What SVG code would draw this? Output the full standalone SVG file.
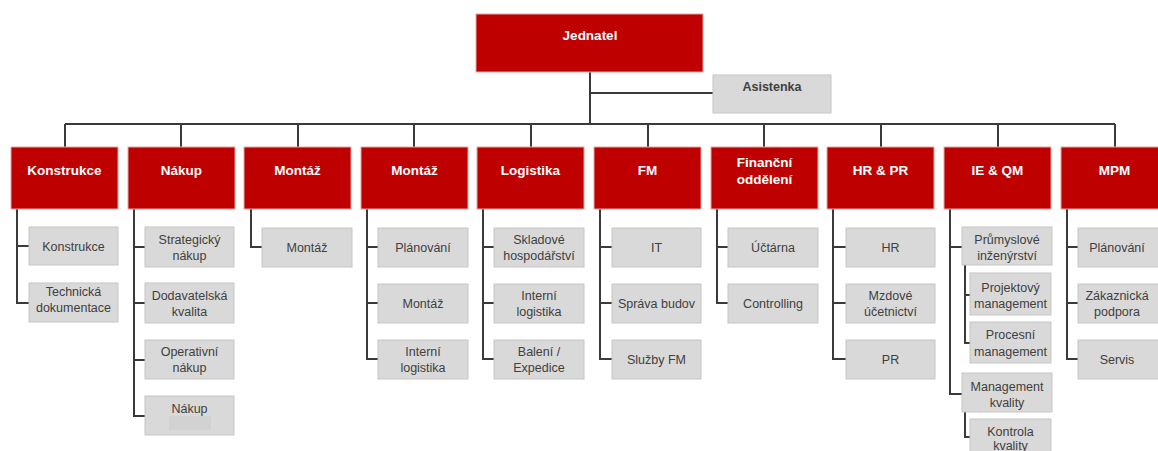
<svg xmlns="http://www.w3.org/2000/svg" width="1158" height="451" viewBox="0 0 1158 451">
<style>
.r{fill:#bf0000;stroke:#e8a5a5;stroke-width:1}
.g{fill:#d9d9d9;stroke:#c6c6c6;stroke-width:1}
.ln{fill:none;stroke:#3a3a3a;stroke-width:2}
.tw{font-family:"Liberation Sans",Arial,sans-serif;font-weight:bold;font-size:13.5px;fill:#ffffff;text-anchor:middle}
.tb{font-family:"Liberation Sans",Arial,sans-serif;font-weight:bold;font-size:12.5px;fill:#404040;text-anchor:middle}
.t{font-family:"Liberation Sans",Arial,sans-serif;font-size:12.5px;fill:#404040;text-anchor:middle}
</style>
<rect width="1158" height="451" fill="#ffffff"/>
<g id="connectors" class="ln">
<path d="M590 72V124M590 93H713M65 124H1115"/>
<path d="M65 124V147M181 124V147M298 124V147M414 124V147M531 124V147M648 124V147M764 124V147M881 124V147M998 124V147M1115 124V147"/>
<path d="M17 209V303H29M17 246H29"/>
<path d="M134 209V416H145M134 247H145M134 303H145M134 360H145"/>
<path d="M251 209V247H262"/>
<path d="M367 209V359H378M367 247H378M367 303H378"/>
<path d="M483 209V359H494M483 247H494M483 303H494"/>
<path d="M600 209V359H612M600 247H612M600 303H612"/>
<path d="M717 209V303H728M717 247H728"/>
<path d="M833 209V359H846M833 247H846M833 303H846"/>
<path d="M950 209V394H962M950 247H962"/>
<path d="M965 265V343H970M965 295H970"/>
<path d="M965 412V437H970"/>
<path d="M1067 209V359H1078M1067 247H1078M1067 303H1078"/>
</g>
<g id="jednatel"><rect class="r" x="476" y="14" width="227" height="58"/><text class="tw" x="590" y="40">Jednatel</text></g>
<g id="asistenka"><rect class="g" x="713" y="75" width="118" height="38"/><text class="tb" x="772" y="91">Asistenka</text></g>

<g id="konstrukce"><rect class="r" x="11" y="147" width="107" height="62"/><text class="tw" x="64.5" y="175">Konstrukce</text></g>
<g id="nakup"><rect class="r" x="128" y="147" width="107" height="62"/><text class="tw" x="181.5" y="175">Nákup</text></g>
<g id="montaz1"><rect class="r" x="244" y="147" width="107" height="62"/><text class="tw" x="297.5" y="175">Montáž</text></g>
<g id="montaz2"><rect class="r" x="361" y="147" width="107" height="62"/><text class="tw" x="414.5" y="175">Montáž</text></g>
<g id="logistika"><rect class="r" x="477" y="147" width="107" height="62"/><text class="tw" x="530.5" y="175">Logistika</text></g>
<g id="fm"><rect class="r" x="594" y="147" width="107" height="62"/><text class="tw" x="647.5" y="175">FM</text></g>
<g id="financni"><rect class="r" x="711" y="147" width="107" height="62"/><text class="tw" x="764.5" y="167">Finanční</text><text class="tw" x="764.5" y="184">oddělení</text></g>
<g id="hrpr"><rect class="r" x="827" y="147" width="107" height="62"/><text class="tw" x="880.5" y="175">HR &amp; PR</text></g>
<g id="ieqm"><rect class="r" x="944" y="147" width="107" height="62"/><text class="tw" x="997.5" y="175">IE &amp; QM</text></g>
<g id="mpm"><rect class="r" x="1061" y="147" width="107" height="62"/><text class="tw" x="1114.5" y="175">MPM</text></g>

<g id="k1"><rect class="g" x="29" y="227" width="89" height="38"/><text class="t" x="73.5" y="250.5">Konstrukce</text></g>
<g id="k2"><rect class="g" x="29" y="283" width="89" height="39"/><text class="t" x="73.5" y="296">Technická</text><text class="t" x="73.5" y="312">dokumentace</text></g>

<g id="n1"><rect class="g" x="145" y="227" width="89" height="40"/><text class="t" x="189.5" y="243.5">Strategický</text><text class="t" x="189.5" y="259.5">nákup</text></g>
<g id="n2"><rect class="g" x="145" y="283" width="89" height="40"/><text class="t" x="189.5" y="299.5">Dodavatelská</text><text class="t" x="189.5" y="315.5">kvalita</text></g>
<g id="n3"><rect class="g" x="145" y="340" width="89" height="39"/><text class="t" x="189.5" y="356">Operativní</text><text class="t" x="189.5" y="372">nákup</text></g>
<g id="n4"><rect class="g" x="145" y="396" width="89" height="39"/><rect x="169" y="416" width="42" height="14" fill="#d2d2d2"/><text class="t" x="189.5" y="412.5">Nákup</text></g>

<g id="m1"><rect class="g" x="262" y="228" width="90" height="39"/><text class="t" x="307" y="252">Montáž</text></g>

<g id="m2a"><rect class="g" x="378" y="228" width="90" height="39"/><text class="t" x="423" y="252">Plánování</text></g>
<g id="m2b"><rect class="g" x="378" y="284" width="90" height="39"/><text class="t" x="423" y="308">Montáž</text></g>
<g id="m2c"><rect class="g" x="378" y="340" width="90" height="39"/><text class="t" x="423" y="356">Interní</text><text class="t" x="423" y="372">logistika</text></g>

<g id="l1"><rect class="g" x="494" y="228" width="90" height="39"/><text class="t" x="539" y="244">Skladové</text><text class="t" x="539" y="260">hospodářství</text></g>
<g id="l2"><rect class="g" x="494" y="284" width="90" height="39"/><text class="t" x="539" y="300">Interní</text><text class="t" x="539" y="316">logistika</text></g>
<g id="l3"><rect class="g" x="494" y="340" width="90" height="39"/><text class="t" x="539" y="356">Balení /</text><text class="t" x="539" y="372">Expedice</text></g>

<g id="f1"><rect class="g" x="612" y="228" width="89" height="39"/><text class="t" x="656.5" y="252">IT</text></g>
<g id="f2"><rect class="g" x="612" y="284" width="89" height="39"/><text class="t" x="656.5" y="308">Správa budov</text></g>
<g id="f3"><rect class="g" x="612" y="340" width="89" height="39"/><text class="t" x="656.5" y="364">Služby FM</text></g>

<g id="fi1"><rect class="g" x="728" y="228" width="90" height="39"/><text class="t" x="773" y="252">Účtárna</text></g>
<g id="fi2"><rect class="g" x="728" y="284" width="90" height="39"/><text class="t" x="773" y="308">Controlling</text></g>

<g id="h1"><rect class="g" x="846" y="228" width="89" height="39"/><text class="t" x="890.5" y="252">HR</text></g>
<g id="h2"><rect class="g" x="846" y="284" width="89" height="39"/><text class="t" x="890.5" y="300">Mzdové</text><text class="t" x="890.5" y="316">účetnictví</text></g>
<g id="h3"><rect class="g" x="846" y="340" width="89" height="39"/><text class="t" x="890.5" y="364">PR</text></g>

<g id="i1"><rect class="g" x="962" y="227" width="90" height="38"/><text class="t" x="1007" y="243.5">Průmyslové</text><text class="t" x="1007" y="259.5">inženýrství</text></g>
<g id="i2"><rect class="g" x="970" y="273" width="81" height="42"/><text class="t" x="1010.5" y="291.5">Projektový</text><text class="t" x="1010.5" y="307.5">management</text></g>
<g id="i3"><rect class="g" x="970" y="322" width="81" height="41"/><text class="t" x="1010.5" y="338.5">Procesní</text><text class="t" x="1010.5" y="355.5">management</text></g>
<g id="i4"><rect class="g" x="962" y="373" width="90" height="39"/><text class="t" x="1007" y="390.5">Management</text><text class="t" x="1007" y="406.5">kvality</text></g>
<g id="i5"><rect class="g" x="970" y="419" width="81" height="40"/><text class="t" x="1010.5" y="435.5">Kontrola</text><text class="t" x="1010.5" y="450">kvality</text></g>

<g id="p1"><rect class="g" x="1078" y="228" width="90" height="39"/><text class="t" x="1117" y="252">Plánování</text></g>
<g id="p2"><rect class="g" x="1078" y="284" width="90" height="39"/><text class="t" x="1117" y="300">Zákaznická</text><text class="t" x="1117" y="316">podpora</text></g>
<g id="p3"><rect class="g" x="1078" y="340" width="90" height="39"/><text class="t" x="1117" y="364">Servis</text></g>
</svg>
